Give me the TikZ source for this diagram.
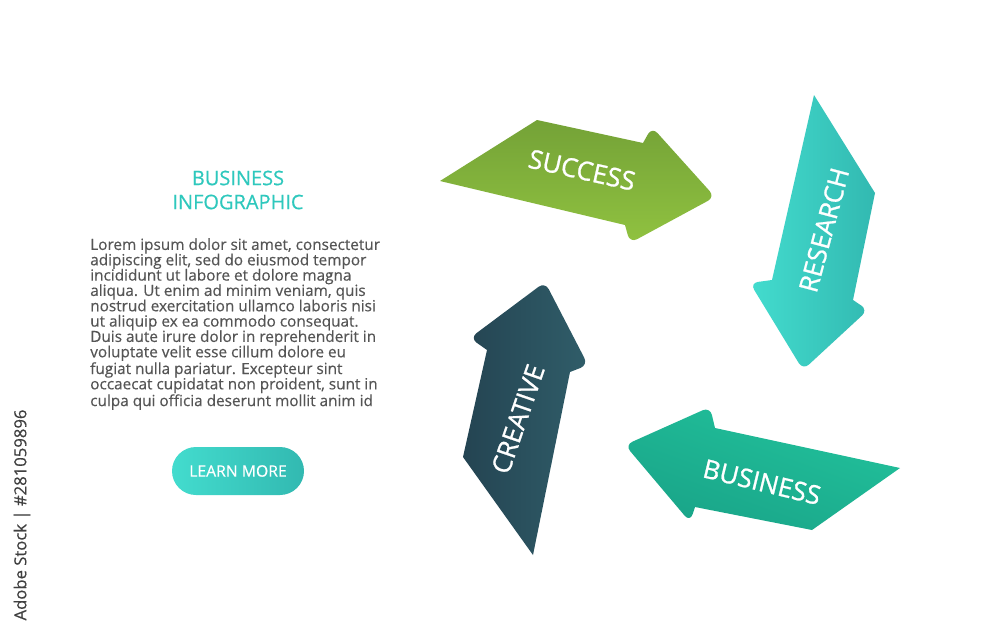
\documentclass[tikz,border=0pt]{standalone}
\usepackage{fontspec}
\setmainfont{Open Sans}
\newfontfamily\pesante{Open Sans}[FakeBold=0.9]
\newfontfamily\medio{Open Sans}[FakeBold=0.4]
\definecolor{titolo}{HTML}{2EC8BD}
\definecolor{testo}{HTML}{555555}
\definecolor{verdeA}{HTML}{74A237}
\definecolor{verdeB}{HTML}{90C240}
\definecolor{cianoA}{HTML}{43DCCE}
\definecolor{cianoB}{HTML}{32B9B1}
\definecolor{tealA}{HTML}{22C29C}
\definecolor{tealB}{HTML}{19A488}
\definecolor{scuroA}{HTML}{244452}
\definecolor{scuroB}{HTML}{305D69}
\begin{document}
\begin{tikzpicture}[x=0.75pt, y=-0.75pt,
    etichetta/.style={text=white, inner sep=0pt, font=\pesante\fontsize{19.5}{21}\selectfont}]
    \useasboundingbox (0,0) rectangle (1000,643);
    \fill[white] (0,0) rectangle (1000,643);

    %titolo
    \node[text=titolo, align=center, font=\medio\fontsize{15}{18}\selectfont] (titolo) at (238,190) {BUSINESS\\INFOGRAPHIC};
    %testo
    \node[text=testo, anchor=north west, inner sep=0pt, align=left, font=\medio\fontsize{11.5}{11.5}\selectfont] (corpo) at (90,238) {Lorem ipsum dolor sit amet, consectetur\\adipiscing elit, sed do eiusmod tempor\\incididunt ut labore et dolore magna\\aliqua. Ut enim ad minim veniam, quis\\nostrud exercitation ullamco laboris nisi\\ut aliquip ex ea commodo consequat.\\Duis aute irure dolor in reprehenderit in\\voluptate velit esse cillum dolore eu\\fugiat nulla pariatur. Excepteur sint\\occaecat cupidatat non proident, sunt in\\culpa qui officia deserunt mollit anim id};
    %bottone
    \node[left color=cianoA, right color=cianoB, rounded corners=18pt, minimum width=99pt, minimum height=36pt, text=white, font=\medio\fontsize{11.8}{13}\selectfont] (bottone) at (238,471) {LEARN MORE};

    %freccia success
    \shade[top color=verdeA, bottom color=verdeB] (440,181) -- (537,120) -- (643,143) [rounded corners=6pt] -- (652,127) -- (715,197) -- (630,243) [sharp corners] -- (625,225) -- cycle;
    %freccia research
    \shade[left color=cianoA, right color=cianoB] (814,95) -- (875,193) -- (853,300) [rounded corners=6pt] -- (868,310) -- (803,370) -- (750,283) [sharp corners] -- (772,280) -- cycle;
    %freccia business
    \shade[top color=tealA, bottom color=tealB, shading angle=-20] (900,468) -- (715,428) [rounded corners=6pt] -- (710,407) -- (625,445) -- (690,522) [sharp corners] -- (695,507) -- (812,530) -- cycle;
    %freccia creative
    \shade[left color=scuroA, right color=scuroB] (533,555) -- (463,457) -- (487,350) [rounded corners=6pt] -- (470,338) -- (545,282) -- (588,365) [sharp corners] -- (570,372) -- cycle;

    %etichette frecce
    \node[etichetta, rotate=-12.6] (success) at (582,170) {SUCCESS};
    \node[etichetta, rotate=75] (research) at (824,230) {RESEARCH};
    \node[etichetta, rotate=-13.6] (business) at (762,482) {BUSINESS};
    \node[etichetta, rotate=71] (creative) at (518,419) {CREATIVE};

    %scritta verticale
    \node[text=black!75, rotate=90, font=\medio\fontsize{12.5}{14}\selectfont] (stock) at (22,515) {Adobe Stock | \#281059896};
\end{tikzpicture}
\end{document}
